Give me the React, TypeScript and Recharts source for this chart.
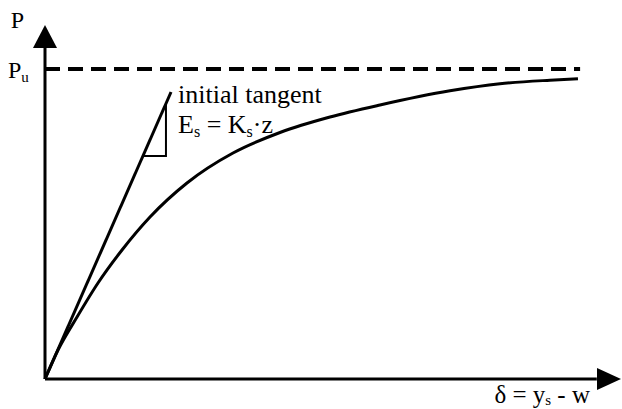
import React from 'react';
import {
  ComposedChart,
  Line,
  XAxis,
  YAxis,
  ReferenceLine,
  ReferenceDot,
} from 'recharts';

// load-displacement curve (axis units 0..100)
const curveX = [0, 2.26, 5.56, 9.2, 13.37, 18.23, 24.65, 32.64, 40.8, 49.48, 58.16, 70.31, 78.99, 87.67, 92.53];
const curveY = [0, 8.19, 17.51, 27.12, 36.44, 45.76, 55.37, 63.84, 69.63, 74.01, 77.4, 81.4, 83.4, 84.4, 84.8];

const tangentX = [0, 21.88];
const tangentY = [0, 81.07];

const triangleX = [21.0, 21.0, 17.0];
const triangleY = [77.85, 63.0, 63.0];

const ultimateLoad = 87.57;
const dashEnd = 92.9;
const axisMax = 100;
const yArrowBase = 93.5;
const xArrowBase = 95.8;

const curve = curveX.map((x, i) => ({ x, y: curveY[i] }));
const tangent = tangentX.map((x, i) => ({ x, y: tangentY[i] }));
const triangle = triangleX.map((x, i) => ({ x, y: triangleY[i] }));

const font = '"Liberation Serif", "Times New Roman", serif';

const UpArrow = (p: any) => (
  <polygon points={`${p.cx},${p.cy} ${p.cx - 12},${p.cy + 23} ${p.cx + 12},${p.cy + 23}`} fill="#000" />
);
const RightArrow = (p: any) => (
  <polygon points={`${p.cx},${p.cy} ${p.cx - 24},${p.cy - 11} ${p.cx - 24},${p.cy + 11}`} fill="#000" />
);

const PLabel = (p: any) => (
  <text x={p.cx - 21} y={p.cy + 3} textAnchor="end" fontFamily={font} fontSize={24} fill="#000">P</text>
);
const PuLabel = (p: any) => (
  <text x={p.cx - 37} y={p.cy + 9} fontFamily={font} fontSize={24} fill="#000">
    P<tspan fontSize={15} dy={4}>u</tspan>
  </text>
);
const TangentLabel = (p: any) => (
  <g fontFamily={font} fontSize={26} fill="#000">
    <text x={p.cx + 7} y={p.cy + 11}>initial tangent</text>
    <text x={p.cx + 7} y={p.cy + 41}>
      E<tspan fontSize={16} dy={4}>s</tspan>
      <tspan dy={-4}> = K</tspan>
      <tspan fontSize={16} dy={4}>s</tspan>
      <tspan dy={-4}>·z</tspan>
    </text>
  </g>
);
const DeltaLabel = (p: any) => (
  <text x={p.cx - 31} y={p.cy + 24} textAnchor="end" fontFamily={font} fontSize={25} fill="#000">
    δ = y<tspan fontSize={15} dy={2}>s</tspan>
    <tspan dy={-2}> - w</tspan>
  </text>
);

export default function App() {
  return (
    <div style={{ position: 'absolute', left: 0, top: 0, background: '#fff' }}>
      <ComposedChart
        width={622}
        height={409}
        margin={{ top: 25, right: 1, bottom: 30, left: 45 }}
      >
        <XAxis dataKey="x" type="number" domain={[0, axisMax]} hide />
        <YAxis dataKey="y" type="number" domain={[0, axisMax]} hide />

        <ReferenceLine
          segment={[{ x: 0, y: ultimateLoad }, { x: dashEnd, y: ultimateLoad }]}
          stroke="#000"
          strokeWidth={4}
          strokeDasharray="15 8"
        />
        <ReferenceLine segment={[{ x: 0, y: 0 }, { x: 0, y: yArrowBase }]} stroke="#000" strokeWidth={3} />
        <ReferenceLine segment={[{ x: 0, y: 0 }, { x: xArrowBase, y: 0 }]} stroke="#000" strokeWidth={3} />

        <Line data={tangent} dataKey="y" type="linear" stroke="#000" strokeWidth={3} dot={false} isAnimationActive={false} />
        <Line data={triangle} dataKey="y" type="linear" stroke="#000" strokeWidth={2} dot={false} isAnimationActive={false} />
        <Line data={curve} dataKey="y" type="monotone" stroke="#000" strokeWidth={3} dot={false} isAnimationActive={false} />

        <ReferenceDot x={0} y={axisMax} shape={UpArrow} ifOverflow="visible" />
        <ReferenceDot x={axisMax} y={0} shape={RightArrow} ifOverflow="visible" />
        <ReferenceDot x={0} y={axisMax} shape={PLabel} ifOverflow="visible" />
        <ReferenceDot x={0} y={ultimateLoad} shape={PuLabel} ifOverflow="visible" />
        <ReferenceDot x={tangentX[1]} y={tangentY[1]} shape={TangentLabel} ifOverflow="visible" />
        <ReferenceDot x={axisMax} y={0} shape={DeltaLabel} ifOverflow="visible" />
      </ComposedChart>
    </div>
  );
}
